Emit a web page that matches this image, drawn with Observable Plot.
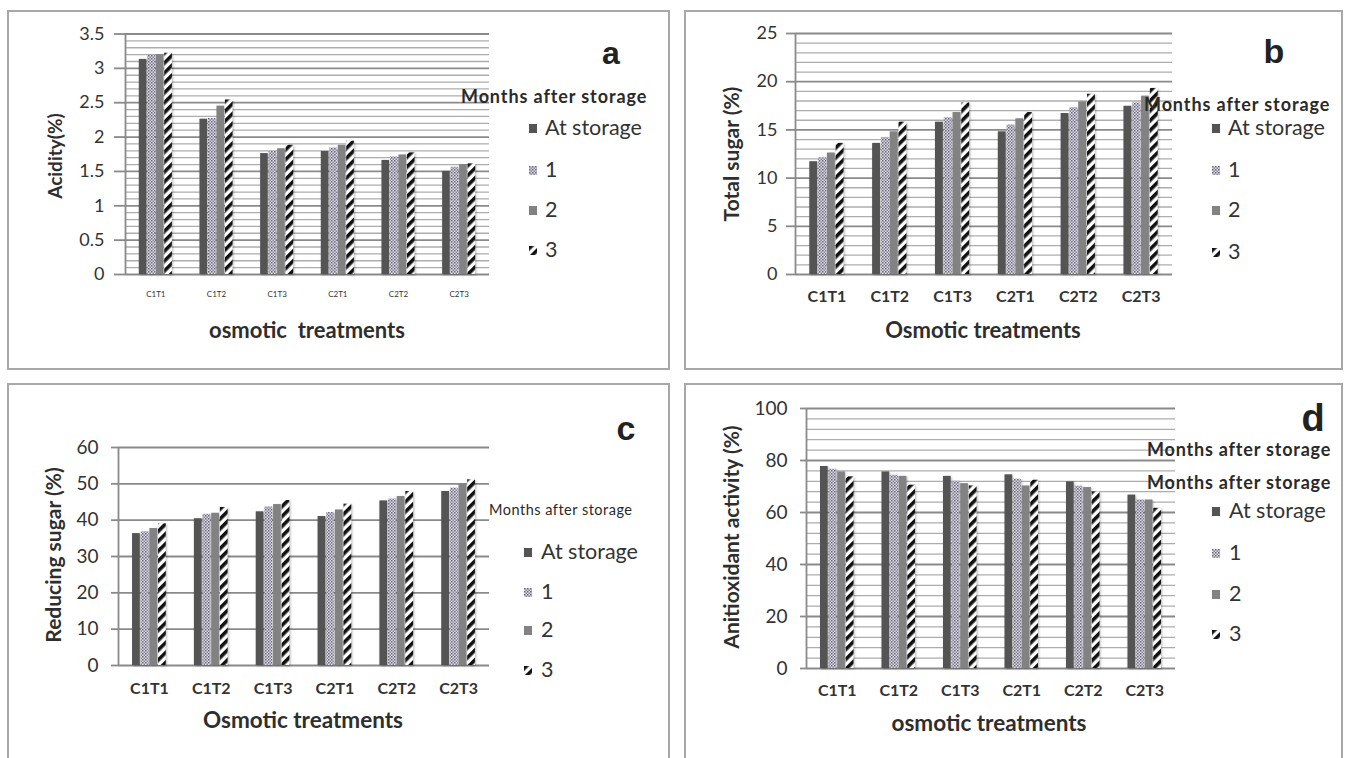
<!DOCTYPE html>
<html><head><meta charset="utf-8">
<script src="https://cdn.jsdelivr.net/npm/d3@7"></script>
<script src="https://cdn.jsdelivr.net/npm/@observablehq/plot@0.6"></script>
<style>
body{margin:0;background:#fff;}
#page{position:relative;width:1349px;height:758px;overflow:hidden;font-family:Lato,"Open Sans",sans-serif;color:#333;}
.box{position:absolute;border:2px solid #a8a8a8;box-sizing:border-box;}
.t{position:absolute;white-space:pre;line-height:1;}
#page svg.plot{position:absolute;overflow:visible;}
g[aria-label="rect"]{filter:drop-shadow(1.5px 1px 1px rgba(0,0,0,0.28));}
</style></head><body>
<svg width="0" height="0" style="position:absolute"><defs>
<pattern id="dots" width="3" height="3" patternUnits="userSpaceOnUse">
<rect width="3" height="3" fill="#dedce4"/><rect x="0" y="0" width="1.5" height="1.5" fill="#66627a"/><rect x="1.5" y="1.5" width="1.5" height="1.5" fill="#86829a"/>
</pattern>
<pattern id="stripes" width="7" height="7" patternUnits="userSpaceOnUse" patternTransform="rotate(45)">
<rect width="7" height="7" fill="#fff"/><rect width="3.6" height="7" fill="#111"/>
</pattern>
</defs></svg>
<div id="page"></div>
<script>
// ---------- data ----------
const treatments = ["C1T1", "C1T2", "C1T3", "C2T1", "C2T2", "C2T3"];
const months = ["At storage", "1", "2", "3"];
// rows = months (At storage, 1, 2, 3); columns = treatments
const acidity = [
  [3.13, 2.26, 1.76, 1.79, 1.66, 1.50],
  [3.19, 2.27, 1.79, 1.84, 1.71, 1.56],
  [3.20, 2.45, 1.83, 1.88, 1.74, 1.60],
  [3.22, 2.54, 1.88, 1.94, 1.77, 1.61]
];
const totalSugar = [
  [11.7, 13.6, 15.8, 14.8, 16.7, 17.45],
  [12.1, 14.2, 16.25, 15.5, 17.3, 17.8],
  [12.6, 14.8, 16.8, 16.15, 17.9, 18.5],
  [13.6, 15.8, 17.8, 16.8, 18.7, 19.3]
];
const reducingSugar = [
  [36.3, 40.4, 42.3, 41.0, 45.3, 47.9],
  [36.8, 41.6, 43.6, 42.1, 45.8, 48.8],
  [37.7, 41.9, 44.3, 42.8, 46.5, 49.8],
  [39.0, 43.5, 45.4, 44.4, 47.9, 51.1]
];
const antioxidant = [
  [77.7, 75.6, 73.9, 74.5, 71.8, 66.7],
  [76.6, 74.3, 72.0, 72.8, 70.1, 64.8],
  [75.6, 73.9, 71.1, 70.2, 69.6, 64.8],
  [73.7, 70.5, 70.2, 72.4, 67.9, 61.6]
];
const fills = ["#545454", "url(#dots)", "#828282", "url(#stripes)"];

// ---------- helpers ----------
const page = document.getElementById("page");
function addText(txt, x, y, css, mode) {
  const d = document.createElement("div");
  d.className = "t";
  d.textContent = txt;
  d.style.left = x + "px";
  d.style.top = y + "px";
  let tf = "translate(-50%,-50%)";
  if (mode === "left") tf = "translate(0,-50%)";
  if (mode === "rot") tf = "translate(-50%,-50%) rotate(-90deg)";
  d.style.transform = tf;
  Object.assign(d.style, css);
  page.appendChild(d);
}
function addSwatch(x, y, fill, w, h) {
  const ns = "http://www.w3.org/2000/svg";
  const s = document.createElementNS(ns, "svg");
  s.setAttribute("width", w); s.setAttribute("height", h);
  s.style.position = "absolute"; s.style.left = x + "px"; s.style.top = (y - h / 2) + "px";
  const r = document.createElementNS(ns, "rect");
  r.setAttribute("width", w); r.setAttribute("height", h); r.setAttribute("fill", fill);
  s.appendChild(r);
  page.appendChild(s);
}

function panel(c) {
  const box = document.createElement("div");
  box.className = "box";
  Object.assign(box.style, {left: c.box[0] + "px", top: c.box[1] + "px", width: c.box[2] + "px", height: c.box[3] + "px"});
  page.appendChild(box);

  const rows = [];
  c.values.forEach((arr, j) => arr.forEach((v, i) => rows.push({i, j, month: months[j], t: treatments[i], v})));
  const major = d3.range(0, c.ymax + 1e-9, c.major);
  const minor = c.minor ? d3.range(0, c.ymax + 1e-9, c.minor).filter(v => Math.abs(v / c.major - Math.round(v / c.major)) > 1e-6) : [];
  const step = 0.14, barW = 0.125, groupW = 3 * step + barW;

  const svg = Plot.plot({
    width: c.box[2], height: c.h,
    marginLeft: c.m[0], marginRight: c.m[1], marginTop: c.m[2], marginBottom: c.m[3],
    style: {fontFamily: "Lato, 'Open Sans', sans-serif", fontSize: c.yFont + "px", color: "#333", background: "transparent", overflow: "visible"},
    x: {domain: [0, 6], ticks: d3.range(6).map(i => i + 0.5), tickFormat: d => treatments[Math.floor(d)], tickSize: 0, tickPadding: c.xPad, label: null},
    y: {domain: [0, c.ymax], ticks: major, tickFormat: d => String(+d.toFixed(2)), tickSize: c.tick, tickPadding: c.yPad, label: null},
    color: {domain: months, range: fills},
    marks: [
      Plot.ruleY(minor, {stroke: "#adadad", strokeWidth: 1.3}),
      Plot.ruleY(major, {stroke: "#8a8a8a", strokeWidth: 1.8}),
      Plot.ruleX([0], {stroke: "#8a8a8a", strokeWidth: 1.8}),
      Plot.rect(rows, {
        x1: d => d.i + 0.5 - groupW / 2 + d.j * step,
        x2: d => d.i + 0.5 - groupW / 2 + d.j * step + barW,
        y1: 0, y2: "v", fill: "month"
      })
    ]
  });
  svg.classList.add("plot");
  svg.style.left = c.box[0] + "px";
  svg.style.top = c.box[1] + "px";
  svg.querySelectorAll('[aria-label^="x-axis"] text').forEach(t => {
    t.style.fontSize = c.xFont + "px"; t.style.fontWeight = c.xWeight;
  });
  svg.querySelectorAll('[aria-label^="y-axis"] line, [aria-label^="y-axis"] path').forEach(el => {
    el.setAttribute("stroke", "#8a8a8a"); el.setAttribute("stroke-width", "1.8");
  });
  page.appendChild(svg);

  addText(c.xTitle[0], c.xTitle[1], c.xTitle[2], {fontSize: c.xTitle[3] + "px", fontWeight: "bold", color: "#2e2e2e"});
  addText(c.yTitle[0], c.yTitle[1], c.yTitle[2], {fontSize: c.yTitle[3] + "px", fontWeight: "bold", color: "#2e2e2e"}, "rot");
  addText(c.letter[0], c.letter[1], c.letter[2], {fontSize: c.letter[3] + "px", fontWeight: "bold", color: "#222", fontFamily: "'Liberation Sans', Arial, sans-serif"});
  c.legTitles.forEach(lt => addText("Months after storage", lt[0], lt[1], {fontSize: c.legTitleFont + "px", fontWeight: c.legTitleWeight, color: "#2a2a2a", letterSpacing: c.legTitleLS}, "left"));
  months.forEach((m, j) => {
    addSwatch(c.leg.sx, c.leg.ys[j], fills[j], 8, 9);
    addText(m, c.leg.tx, c.leg.ys[j], {fontSize: c.leg.font + "px", color: "#333"}, "left");
  });
}

panel({
  box: [7, 10, 663, 360], h: 360, m: [118, 181, 23.5, 96],
  values: acidity, ymax: 3.5, major: 0.5, minor: 0.1,
  tick: 11, yPad: 10, yFont: 18, xFont: 8, xWeight: "normal", xPad: 17,
  xTitle: ["osmotic  treatments", 307, 330, 22],
  yTitle: ["Acidity(%)", 54, 156, 19],
  letter: ["a", 611, 53, 32],
  legTitles: [[461, 96]], legTitleFont: 18, legTitleWeight: "bold", legTitleLS: "0.9px",
  leg: {sx: 529, tx: 545, ys: [128, 170, 210, 250], font: 21.5}
});
panel({
  box: [684, 10, 659, 360], h: 360, m: [111, 171, 23, 96],
  values: totalSugar, ymax: 25, major: 5, minor: 1,
  tick: 9, yPad: 9, yFont: 18, xFont: 16, xWeight: "bold", xPad: 16,
  xTitle: ["Osmotic treatments", 983, 330, 22],
  yTitle: ["Total sugar (%)", 730, 154, 21],
  letter: ["b", 1274, 51, 34],
  legTitles: [[1144, 104]], legTitleFont: 18, legTitleWeight: "bold", legTitleLS: "0.9px",
  leg: {sx: 1212, tx: 1228, ys: [128, 170, 210, 252], font: 21.5}
});
panel({
  box: [7, 383, 663, 400], h: 375, m: [111, 181, 64, 93],
  values: reducingSugar, ymax: 60, major: 10, minor: 0,
  tick: 7, yPad: 13, yFont: 19, xFont: 16, xWeight: "bold", xPad: 17,
  xTitle: ["Osmotic treatments", 303, 720, 22.5],
  yTitle: ["Reducing sugar (%)", 52, 555, 21],
  letter: ["c", 626, 428, 34],
  legTitles: [[489, 510]], legTitleFont: 14.5, legTitleWeight: "normal", legTitleLS: "0.5px",
  leg: {sx: 524, tx: 541, ys: [552, 592, 630, 670], font: 21.5}
});
panel({
  box: [684, 383, 659, 400], h: 375, m: [122, 168, 25, 90],
  values: antioxidant, ymax: 100, major: 20, minor: 4,
  tick: 6, yPad: 13, yFont: 19, xFont: 16, xWeight: "bold", xPad: 16,
  xTitle: ["osmotic treatments", 989, 723, 22.5],
  yTitle: ["Anitioxidant activity (%)", 730, 537, 21],
  letter: ["d", 1313, 418, 38],
  legTitles: [[1147, 449], [1147, 482]], legTitleFont: 18, legTitleWeight: "bold", legTitleLS: "0.8px",
  leg: {sx: 1212, tx: 1229, ys: [511, 553, 594, 634], font: 21.5}
});
</script>
</body></html>
